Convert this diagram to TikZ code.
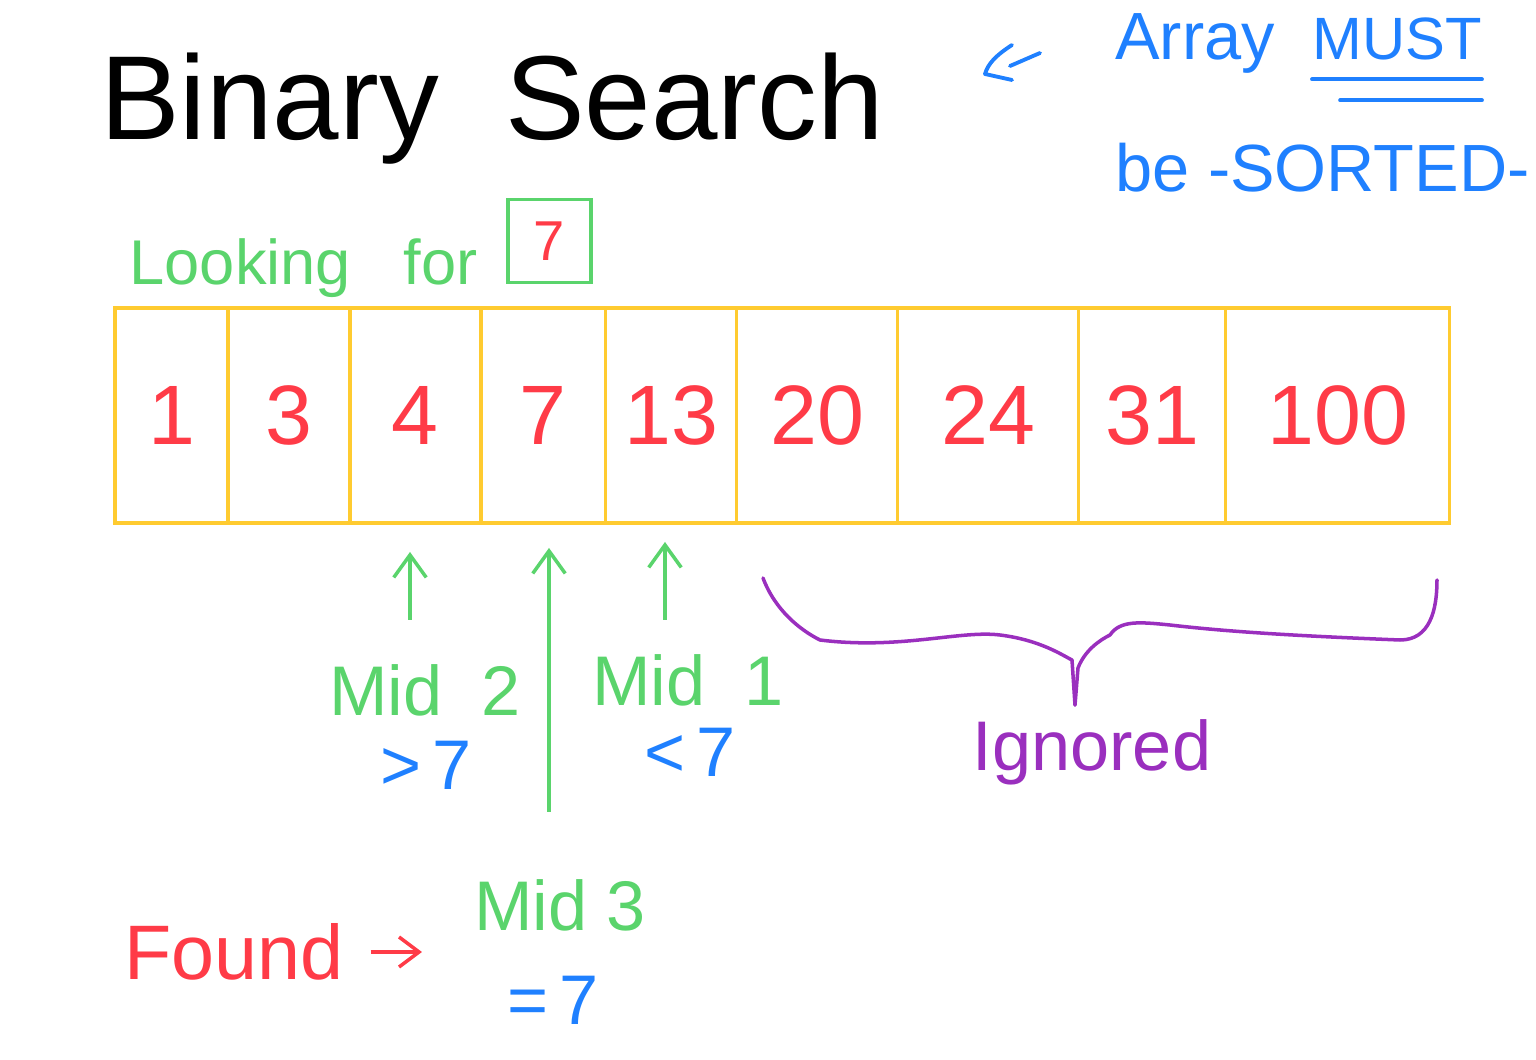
\documentclass[tikz,border=0pt]{standalone}
\usepackage{fontspec}
\setmainfont{Liberation Sans}
\usetikzlibrary{positioning,arrows.meta}
\definecolor{penred}{HTML}{FF3B47}
\definecolor{pengreen}{HTML}{5AD46C}
\definecolor{penblue}{HTML}{1F80FF}
\definecolor{penpurple}{HTML}{9A2FBE}
\definecolor{penyellow}{HTML}{FFCB30}
\tikzset{
  >={Straight Barb[length=4.5mm,width=6.5mm]},
  cell/.style={draw=penyellow,line width=1.8pt,minimum height=4.3cm,
    inner sep=0pt,outer sep=0pt,text=penred,font=\fontsize{48}{50}\selectfont},
  title/.style={font=\fontsize{68}{72}\selectfont,text=black,inner sep=0pt},
  note/.style={font=\fontsize{38}{42}\selectfont,text=penblue,inner sep=0pt},
  midlbl/.style={font=\fontsize{40}{44}\selectfont,text=pengreen,inner sep=1pt},
  cmplbl/.style={font=\fontsize{40}{44}\selectfont,text=penblue,inner sep=1pt},
  lookbox/.style={draw=pengreen,line width=1.8pt,minimum size=1.66cm,
    inner sep=0pt,text=penred,font=\fontsize{32}{34}\selectfont},
  ptr/.style={->,draw=pengreen,line width=2pt},
  bluepen/.style={draw=penblue,line width=2.2pt,line cap=round,line join=round},
  bracepen/.style={draw=penpurple,line width=2pt,line cap=round,line join=round},
  foundarr/.style={-{Straight Barb[length=4mm,width=6mm]},draw=penred,line width=2pt},
}
\begin{document}
\begin{tikzpicture}[x=0.02cm,y=-0.02cm]
  \useasboundingbox (0,0) rectangle (1536,1060);

  % heading and the side note
  \node[title,anchor=base] (head) at (492,140) {Binary\ \ Search};
  \node[note,anchor=base west] (arr) at (1115,60) {Array};
  \node[note,anchor=base west,font=\fontsize{34}{38}\selectfont] (must) at (1312,60) {MUST};
  \node[note,anchor=base west] (sorted) at (1115,192) {be -SORTED-};
  \draw[bluepen] ([yshift=-11pt]must.base west) -- ([yshift=-11pt]must.base east);
  \draw[bluepen] ([xshift=16pt,yshift=-23pt]must.base west) -- ([yshift=-23pt]must.base east);
  \draw[bluepen] (1012,45) .. controls (995,56) and (988,64) .. (985,74) -- (1012,80);
  \draw[bluepen] (1010,66) -- (1040,53);

  % what we search for
  \node[font=\fontsize{36}{40}\selectfont,text=pengreen,anchor=base east,inner sep=0pt]
    (look) at (478,285) {Looking\ \ \ for};
  \node[lookbox] (target) at (549.5,241) {7};

  % the sorted array
  \node[cell,minimum width=2.26cm,anchor=north west] (c1) at (115,308) {1};
  \node[cell,minimum width=2.44cm,right=0pt of c1] (c2) {3};
  \node[cell,minimum width=2.62cm,right=0pt of c2] (c3) {4};
  \node[cell,minimum width=2.50cm,right=0pt of c3] (c4) {7};
  \node[cell,minimum width=2.62cm,right=0pt of c4] (c5) {13};
  \node[cell,minimum width=3.22cm,right=0pt of c5] (c6) {20};
  \node[cell,minimum width=3.62cm,right=0pt of c6] (c7) {24};
  \node[cell,minimum width=2.94cm,right=0pt of c7] (c8) {31};
  \node[cell,minimum width=4.48cm,right=0pt of c8] (c9) {100};

  % the three probes
  \coordinate (m2foot) at (410,620);
  \coordinate (m3foot) at (549,812);
  \coordinate (m1foot) at (665,620);
  \draw[ptr,shorten >=0.58cm] (m2foot) -- (m2foot |- c3.south);
  \draw[ptr,shorten >=0.5cm] (m3foot) -- (m3foot |- c4.south);
  \draw[ptr,shorten >=0.38cm] (m1foot) -- (m1foot |- c5.south);

  \node[midlbl] (mid2) at (425,690) {Mid\ \ 2};
  \node[cmplbl] (gt) at (426,765) {>\,7};
  \node[midlbl] (mid1) at (688,680) {Mid\ \ 1};
  \node[cmplbl] (lt) at (690,752) {<\,7};
  \node[midlbl] (mid3) at (560,905) {Mid 3};
  \node[cmplbl] (eq) at (553,1000) {=\,7};

  \node[font=\fontsize{44}{48}\selectfont,text=penred,inner sep=1pt] (found) at (234,952) {Found};
  \draw[foundarr,shorten <=0.5cm,shorten >=1cm] (found.east) -- (mid3.west |- found.east);

  % the part that is dropped
  \draw[bracepen] (763,578) .. controls (775,610) and (800,630) .. (820,640)
    .. controls (900,650) and (960,630) .. (1000,635)
    .. controls (1040,640) and (1062,655) .. (1072,660) -- (1075,705);
  \draw[bracepen] (1075,705) -- (1078,668)
    .. controls (1085,650) and (1100,640) .. (1110,635)
    .. controls (1120,620) and (1140,622) .. (1170,625)
    .. controls (1230,632) and (1300,636) .. (1400,640)
    .. controls (1430,640) and (1437,610) .. (1437,580);
  \node[font=\fontsize{40}{44}\selectfont,text=penpurple,inner sep=1pt] (ign) at (1092,752) {Ignored};
\end{tikzpicture}
\end{document}
